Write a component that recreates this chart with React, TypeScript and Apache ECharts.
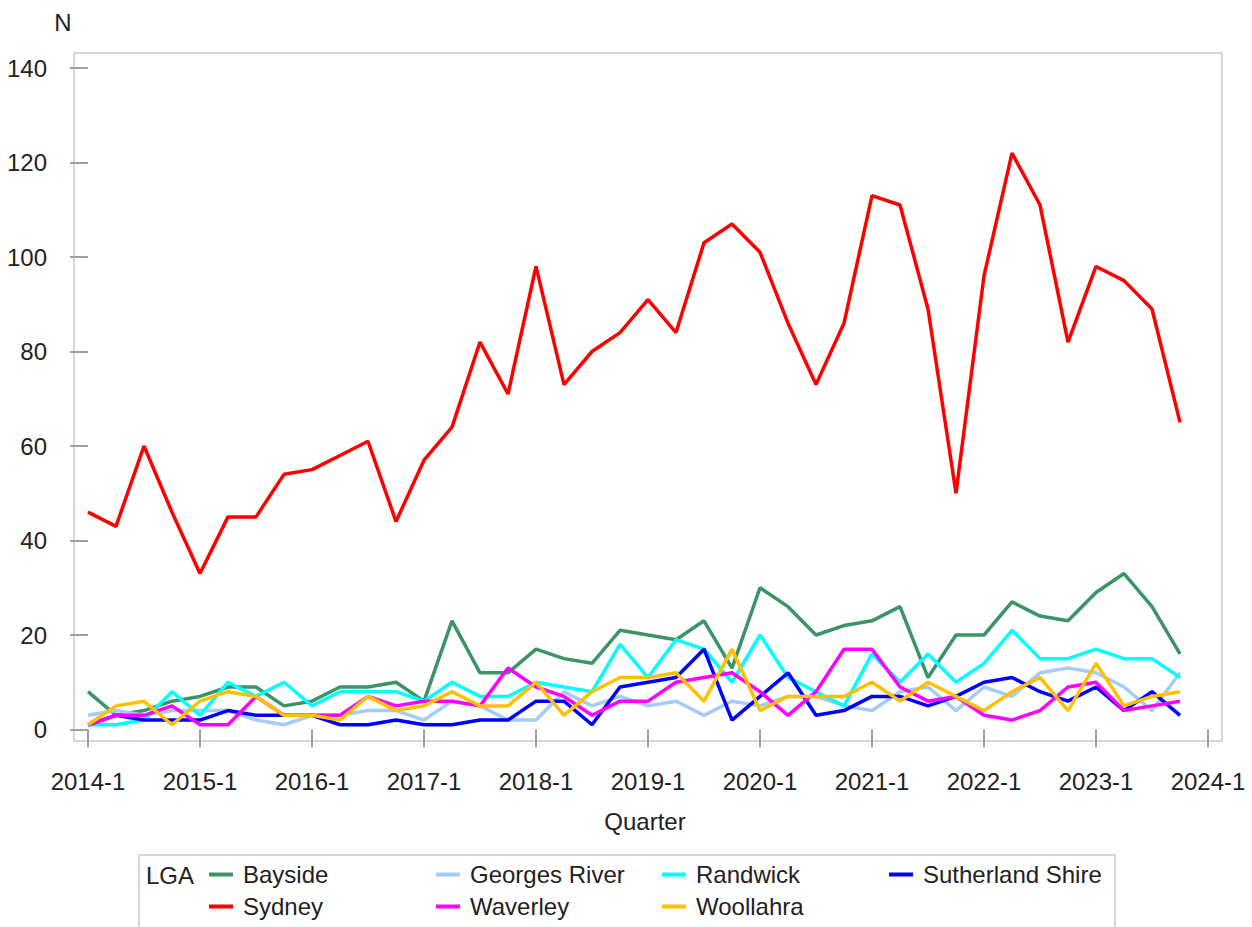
import React, { useEffect, useRef } from "react";
import * as echarts from "echarts";

const yearLabels = ["2014-1", "2015-1", "2016-1", "2017-1", "2018-1", "2019-1", "2020-1", "2021-1", "2022-1", "2023-1", "2024-1"];

const bayside = [8, 3, 4, 6, 7, 9, 9, 5, 6, 9, 9, 10, 6, 23, 12, 12, 17, 15, 14, 21, 20, 19, 23, 13, 30, 26, 20, 22, 23, 26, 11, 20, 20, 27, 24, 23, 29, 33, 26, 16];
const georgesRiver = [3, 4, 3, 4, 4, 4, 2, 1, 3, 3, 4, 4, 2, 6, 5, 2, 2, 8, 5, 7, 5, 6, 3, 6, 5, 7, 7, 5, 4, 8, 9, 4, 9, 7, 12, 13, 12, 9, 4, 12];
const randwick = [1, 1, 2, 8, 3, 10, 7, 10, 5, 8, 8, 8, 6, 10, 7, 7, 10, 9, 8, 18, 11, 19, 17, 10, 20, 11, 8, 5, 16, 10, 16, 10, 14, 21, 15, 15, 17, 15, 15, 11];
const sutherlandShire = [1, 3, 2, 2, 2, 4, 3, 3, 3, 1, 1, 2, 1, 1, 2, 2, 6, 6, 1, 9, 10, 11, 17, 2, 7, 12, 3, 4, 7, 7, 5, 7, 10, 11, 8, 6, 9, 4, 8, 3];
const sydney = [46, 43, 60, 46, 33, 45, 45, 54, 55, 58, 61, 44, 57, 64, 82, 71, 98, 73, 80, 84, 91, 84, 103, 107, 101, 86, 73, 86, 113, 111, 89, 50, 96, 122, 111, 82, 98, 95, 89, 65];
const waverley = [1, 3, 3, 5, 1, 1, 7, 3, 3, 3, 7, 5, 6, 6, 5, 13, 9, 7, 3, 6, 6, 10, 11, 12, 8, 3, 8, 17, 17, 9, 6, 7, 3, 2, 4, 9, 10, 4, 5, 6];
const woollahra = [1, 5, 6, 1, 6, 8, 7, 3, 3, 2, 7, 4, 5, 8, 5, 5, 10, 3, 8, 11, 11, 12, 6, 17, 4, 7, 7, 7, 10, 6, 10, 7, 4, 8, 11, 4, 14, 5, 7, 8];

const seriesNames = ["Bayside", "Georges River", "Randwick", "Sutherland Shire", "Sydney", "Waverley", "Woollahra"];
const seriesValues = [bayside, georgesRiver, randwick, sutherlandShire, sydney, waverley, woollahra];
const seriesColors = ["#3b9466", "#a4cbfa", "#00ffff", "#0000ff", "#ff0000", "#ff00ff", "#ffc000"];

const FONT = '"Liberation Sans", Arial, sans-serif';
const TEXT = "#222222";
const GRAY = "#a0a0a0";
const FRAME = "#d6d6d6";
const FS = 24;

export default function App() {
  const ref = useRef<HTMLDivElement>(null);

  useEffect(() => {
    if (!ref.current) return;
    const chart = echarts.init(ref.current, undefined, { renderer: "svg" });

    const legendBase = {
      orient: "vertical",
      icon: "rect",
      itemWidth: 24,
      itemHeight: 4,
      itemGap: 7,
      padding: 0,
      top: 862,
      selectedMode: false,
      textStyle: { fontSize: FS, color: TEXT, fontFamily: FONT, lineHeight: 25, padding: [0, 0, 0, 5] },
    };

    chart.setOption({
      animation: false,
      backgroundColor: "#ffffff",
      grid: { left: 88, right: 44, top: 68, bottom: 197.5, containLabel: false },
      xAxis: {
        type: "value",
        min: 0,
        max: 40,
        interval: 4,
        offset: 13,
        axisLine: { show: false },
        axisTick: { show: true, length: 18, lineStyle: { color: GRAY, width: 2 } },
        axisLabel: {
          margin: 27,
          fontSize: FS,
          color: TEXT,
          fontFamily: FONT,
          formatter: (v: number) => yearLabels[Math.round(v / 4)] ?? "",
        },
        splitLine: { show: false },
      },
      yAxis: {
        type: "value",
        min: 0,
        max: 140,
        interval: 20,
        offset: 14,
        axisLine: { show: false },
        axisTick: { show: true, length: 18, lineStyle: { color: GRAY, width: 2 } },
        axisLabel: { margin: 27, fontSize: FS, color: TEXT, fontFamily: FONT },
        splitLine: { show: false },
      },
      legend: [
        { ...legendBase, left: 209, data: ["Bayside", "Sydney"] },
        { ...legendBase, left: 436, data: ["Georges River", "Waverley"] },
        { ...legendBase, left: 662, data: ["Randwick", "Woollahra"] },
        { ...legendBase, left: 889, data: ["Sutherland Shire"] },
      ],
      graphic: [
        {
          type: "rect",
          shape: { x: 74, y: 53, width: 1148, height: 688 },
          style: { fill: "none", stroke: FRAME, lineWidth: 2 },
          silent: true,
        },
        {
          type: "rect",
          shape: { x: 139, y: 855, width: 976, height: 100 },
          style: { fill: "none", stroke: FRAME, lineWidth: 2 },
          silent: true,
        },
        {
          type: "text",
          x: 63,
          y: 22,
          style: { text: "N", fontSize: FS, fontFamily: FONT, fill: TEXT, textAlign: "center", textVerticalAlign: "middle", align: "center", verticalAlign: "middle" },
        },
        {
          type: "text",
          x: 645,
          y: 821,
          style: { text: "Quarter", fontSize: FS, fontFamily: FONT, fill: TEXT, textAlign: "center", textVerticalAlign: "middle", align: "center", verticalAlign: "middle" },
        },
        {
          type: "text",
          x: 146,
          y: 875,
          style: { text: "LGA", fontSize: FS, fontFamily: FONT, fill: TEXT, textAlign: "left", textVerticalAlign: "middle", align: "left", verticalAlign: "middle" },
        },
      ],
      series: seriesNames.map((name, k) => ({
        name,
        type: "line",
        data: seriesValues[k].map((v, i) => [i, v]),
        showSymbol: false,
        symbol: "none",
        lineStyle: { color: seriesColors[k], width: 3.5 },
        itemStyle: { color: seriesColors[k] },
        emphasis: { disabled: true },
      })),
    });

    return () => chart.dispose();
  }, []);

  return <div ref={ref} style={{ position: "absolute", left: 0, top: 0, width: 1252, height: 927 }} />;
}
